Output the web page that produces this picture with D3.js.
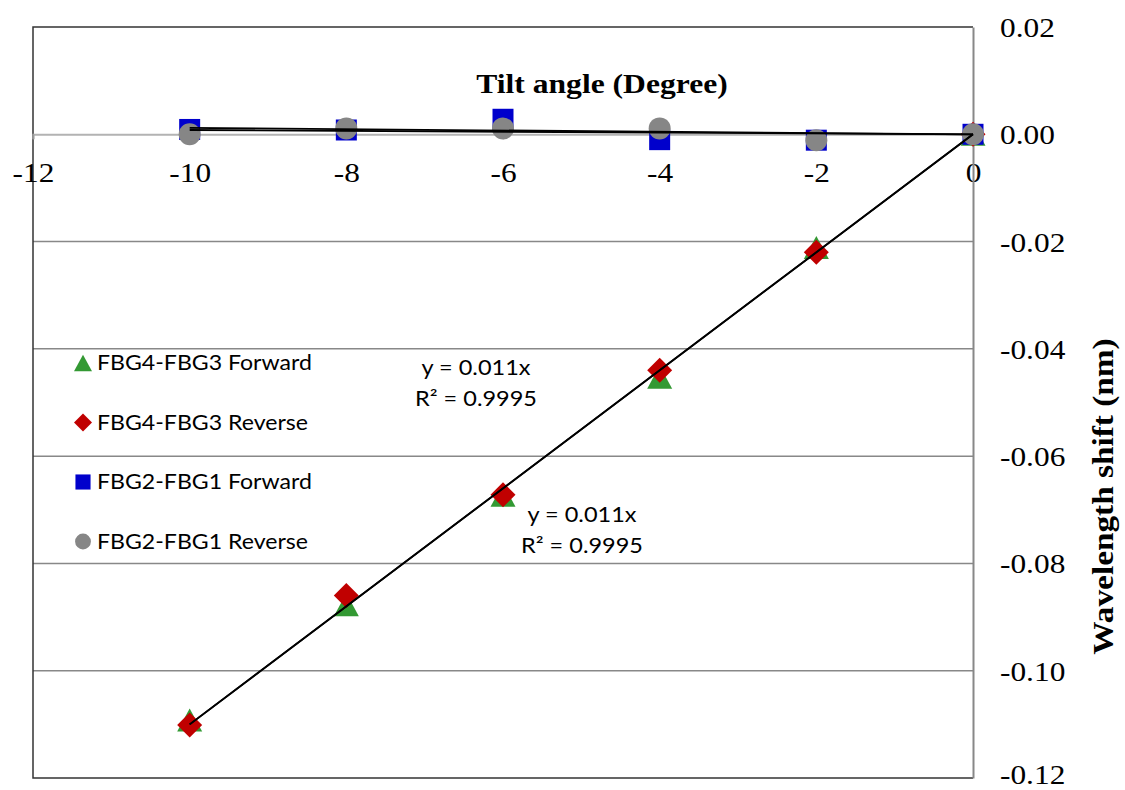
<!DOCTYPE html>
<html>
<head>
<meta charset="utf-8">
<script src="https://cdn.jsdelivr.net/npm/d3@7"></script>
<style>
  html, body { margin: 0; padding: 0; background: #fff; }
  svg { display: block; }
</style>
</head>
<body>
<svg id="chart" width="1125" height="790"></svg>
<script>
// Tilt angles (degrees) at which each FBG pair was measured
const tiltAngles = [-10, -8, -6, -4, -2, 0];

// Wavelength shift (nm) of each pair
const fbg43Forward = [-0.1092, -0.0877, -0.0673, -0.0453, -0.0211, 0];
const fbg43Reverse = [-0.1101, -0.0860, -0.0672, -0.0440, -0.0220, 0];
const fbg21Forward = [0.0009, 0.0008, 0.0028, -0.0010, -0.0011, 0];
const fbg21Reverse = [0.0000, 0.0011, 0.0011, 0.0011, -0.0011, 0];

// Fitted linear trend (through origin) reported for the FBG4-FBG3 pair
const fbg43Slope = 0.011;
const fbg43R2 = 0.9995;

// Axis ticks
const xTicks = [-12, -10, -8, -6, -4, -2, 0];
const yTicks = [0.02, 0.00, -0.02, -0.04, -0.06, -0.08, -0.10, -0.12];

const seriesNames = ["FBG4-FBG3 Forward", "FBG4-FBG3 Reverse", "FBG2-FBG1 Forward", "FBG2-FBG1 Reverse"];

const svg = d3.select("#chart");
const W = 1125, H = 790;
svg.append("rect").attr("width", W).attr("height", H).attr("fill", "#fff");

const plot = { left: 33, right: 973, top: 27, bottom: 778 };
const x = d3.scaleLinear().domain([-12, 0]).range([plot.left, plot.right]);
const y = d3.scaleLinear().domain([0.02, -0.12]).range([plot.top, plot.bottom]);

const serif = "'Liberation Serif', 'Times New Roman', serif";
const sans = "Lato, 'Open Sans', sans-serif";
const fmtY = d3.formatLocale({ decimal: ".", thousands: ",", grouping: [3], currency: ["", ""], minus: "-" }).format(".2f");

// Horizontal gridlines
svg.append("g").selectAll("line")
  .data(yTicks.filter(v => v !== 0 && v !== 0.02 && v !== -0.12))
  .join("line")
  .attr("x1", plot.left).attr("x2", plot.right)
  .attr("y1", d => y(d)).attr("y2", d => y(d))
  .attr("stroke", "#888").attr("stroke-width", 1.5);

// Plot frame
svg.append("path")
  .attr("d", `M${plot.right},${plot.top}H${plot.left}V${plot.bottom}H${plot.right}`)
  .attr("fill", "none").attr("stroke", "#333").attr("stroke-width", 1.5);

// X axis along y = 0
const xAxis = d3.axisBottom(x).tickValues(xTicks).tickSize(5).tickFormat(d3.format("d"));
const gx = svg.append("g").attr("transform", `translate(0,${y(0)})`).call(xAxis);
gx.select(".domain").attr("stroke", "#b3b3b3").attr("stroke-width", 2);
gx.selectAll(".tick line").attr("stroke", "#999").attr("stroke-width", 1.5);
gx.selectAll(".tick text")
  .attr("font-family", serif).attr("font-size", 28).attr("fill", "#000")
  .attr("y", 0).attr("dy", 0)
  .attr("transform", "translate(0,48) scale(1.12,1)")
  .text(d => d3.format("d")(d).replace("−", "-"));

// Y axis at x = 0 (right side)
const yAxis = d3.axisRight(y).tickValues(yTicks).tickSize(0).tickFormat(fmtY);
const gy = svg.append("g").attr("transform", `translate(${x(0)},0)`).call(yAxis);
gy.select(".domain").attr("stroke", "#888").attr("stroke-width", 2);
gy.selectAll(".tick text")
  .attr("font-family", serif).attr("font-size", 28).attr("fill", "#000")
  .attr("text-anchor", "start").attr("x", 0).attr("dy", 0)
  .attr("transform", d => `translate(27,${d === -0.12 ? 5.5 : 9.5}) scale(1.12,1)`);

// Axis titles
svg.append("text")
  .attr("transform", `translate(${(x(-12) + x(0)) / 2 + 99},93) scale(1.17,1)`)
  .attr("text-anchor", "middle")
  .attr("font-family", serif).attr("font-weight", "bold").attr("font-size", 27)
  .text("Tilt angle (Degree)");

svg.append("text")
  .attr("transform", `translate(1113,${(y(0.02) + y(-0.12)) / 2 + 94}) rotate(-90) scale(1.11,1)`)
  .attr("text-anchor", "middle")
  .attr("font-family", serif).attr("font-weight", "bold").attr("font-size", 30)
  .text("Wavelength shift (nm)");

// Marker shapes
const triPath = (w, h) => `M0,${-h / 2}L${w / 2},${h / 2}L${-w / 2},${h / 2}Z`;
const markers = [
  { name: seriesNames[0], data: fbg43Forward, color: "#339933",
    draw: (g, s) => g.append("path").attr("d", triPath(25 * s, 23 * s)) },
  { name: seriesNames[1], data: fbg43Reverse, color: "#c00000",
    draw: (g, s) => g.append("path").attr("d", d3.symbol(d3.symbolSquare, 312 * s * s)()).attr("transform", "rotate(45)") },
  { name: seriesNames[2], data: fbg21Forward, color: "#0000cc",
    draw: (g, s) => g.append("path").attr("d", d3.symbol(d3.symbolSquare, 441 * s * s)()) },
  { name: seriesNames[3], data: fbg21Reverse, color: "#868686",
    draw: (g, s) => g.append("path").attr("d", d3.symbol(d3.symbolCircle, 380 * s * s)()) }
];

// Data markers
markers.forEach(m => {
  const g = svg.append("g").attr("fill", m.color);
  m.data.forEach((v, i) => {
    const mg = g.append("g").attr("transform", `translate(${x(tiltAngles[i])},${y(v)})`);
    m.draw(mg, 1);
  });
});

// Least-squares slope of a line through the origin
const originSlope = (xs, ys) => d3.sum(xs, (d, i) => d * ys[i]) / d3.sum(xs, d => d * d);

const trendSlopes = [fbg43Slope, fbg43Slope, originSlope(tiltAngles, fbg21Forward), originSlope(tiltAngles, fbg21Reverse)];
const xExtent = d3.extent(tiltAngles);
const trendLine = d3.line().x(d => x(d[0])).y(d => y(d[1]));
svg.append("g").selectAll("path")
  .data(trendSlopes)
  .join("path")
  .attr("d", k => trendLine(xExtent.map(a => [a, k * a])))
  .attr("fill", "none").attr("stroke", "#000").attr("stroke-width", 1.8);

// Trendline equations
const eqLabels = [
  { cx: 476, by: 375 },
  { cx: 582, by: 522 }
];
eqLabels.forEach(p => {
  [`y = ${fbg43Slope}x`, `R² = ${fbg43R2}`].forEach((s, j) => {
    svg.append("text")
      .attr("transform", `translate(${p.cx},${p.by + j * 31}) scale(1.12,1)`)
      .attr("font-family", sans).attr("font-size", 21).attr("text-anchor", "middle").attr("fill", "#000")
      .text(s);
  });
});

// Legend
const legend = svg.append("g").attr("transform", "translate(83,363)");
markers.forEach((m, i) => {
  const row = legend.append("g").attr("transform", `translate(0,${i * 59.5})`);
  const mg = row.append("g").attr("fill", m.color);
  m.draw(mg, 0.72);
  row.append("text").attr("transform", "translate(14,7) scale(1.05,1)")
    .attr("font-family", sans).attr("font-size", 22).attr("fill", "#000")
    .text(m.name);
});
</script>
</body>
</html>
